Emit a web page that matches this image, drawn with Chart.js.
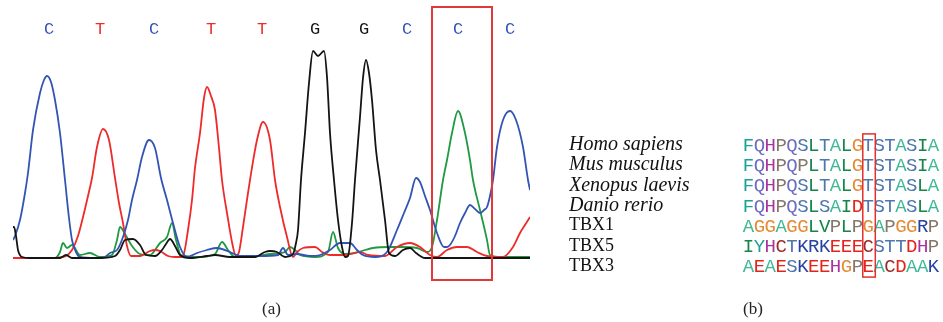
<!DOCTYPE html>
<html>
<head>
<meta charset="utf-8">
<script src="https://cdn.jsdelivr.net/npm/chart.js@4/dist/chart.umd.min.js"></script>
<style>
  html, body { margin: 0; padding: 0; background: #fff; }
  #wrap { position: relative; width: 943px; height: 322px; overflow: hidden; }
  #trace { position: absolute; left: 0; top: 0; }
  #align { position: absolute; left: 540px; top: 0; }
</style>
</head>
<body>
<div id="wrap">
  <canvas id="trace" width="540" height="322"></canvas>
  <canvas id="align" width="403" height="322"></canvas>
</div>
<script>
// --- (a) chromatogram: [scan position, signal] for each dye channel ---
const traceG = [[13,31],[14,31],[16,22],[18,8],[22,1],[30,0],[60,0],[66,3],[72,0],[100,0],[115,2],[120,8],[125,18],[133,19],[140,13],[146,3],[155,2],[162,8],[166,14],[170,19],[175,12],[180,3],[190,0],[207,2],[215,3],[230,1],[255,1],[265,6],[270,7],[277,6],[285,1],[293,4],[296,15],[298,28],[301,78],[305,125],[309,175],[313,207],[318,202],[324,207],[327,181],[330,125],[334,78],[338,38],[342,11],[345,1],[348,2],[352,35],[355,78],[360,141],[363,180],[366,198],[369,185],[372,158],[376,108],[380,78],[385,38],[389,5],[395,2],[403,8],[410,10],[416,5],[425,0],[530,0]];
const traceC = [[13,18],[15,22],[20,38],[25,65],[28,85],[33,128],[40,165],[44,178],[47,182],[51,176],[55,158],[60,125],[65,78],[69,40],[72,18],[76,6],[80,1],[95,0],[105,1],[110,5],[117,8],[123,21],[128,38],[132,58],[137,78],[142,101],[149,118],[155,110],[161,80],[167,58],[173,35],[180,11],[187,1],[197,5],[207,8],[217,10],[230,6],[240,2],[260,2],[278,3],[283,10],[288,3],[297,4],[310,2],[320,3],[330,8],[340,15],[350,15],[357,8],[363,3],[375,1],[387,6],[397,28],[404,45],[410,60],[416,80],[420,76],[425,62],[430,48],[437,25],[444,11],[447,11],[450,13],[455,22],[460,35],[465,45],[470,53],[475,49],[480,45],[484,48],[487,51],[490,62],[493,78],[497,111],[503,138],[510,147],[516,138],[523,111],[528,78],[530,68]];
const traceT = [[13,0],[55,0],[62,1],[66,2],[72,8],[78,22],[84,45],[88,62],[92,80],[97,111],[103,129],[109,118],[115,80],[119,55],[123,35],[127,12],[131,2],[140,2],[150,7],[155,8],[160,7],[168,2],[175,1],[180,1],[183,2],[188,28],[192,58],[195,90],[200,125],[204,160],[207,171],[211,162],[215,148],[219,110],[222,78],[227,45],[233,11],[236,2],[239,6],[243,31],[248,65],[250,78],[257,118],[263,136],[270,118],[275,78],[280,51],[287,21],[293,1],[297,6],[303,10],[315,11],[322,6],[330,3],[345,3],[360,6],[368,3],[385,2],[397,11],[410,15],[420,11],[430,3],[437,1],[447,8],[457,11],[467,11],[477,6],[487,2],[503,1],[513,11],[520,25],[525,33],[530,41]];
const traceA = [[13,0],[55,0],[60,6],[63,15],[67,10],[72,13],[80,3],[90,5],[100,1],[112,3],[117,18],[120,31],[125,24],[132,12],[140,4],[150,3],[160,15],[167,21],[172,35],[176,18],[181,3],[200,1],[215,4],[222,16],[228,8],[235,1],[250,1],[270,4],[285,6],[290,11],[295,8],[300,3],[315,1],[328,6],[333,26],[338,10],[345,4],[355,5],[365,8],[373,10],[390,11],[400,11],[417,10],[427,6],[432,11],[437,38],[443,78],[447,98],[452,125],[458,147],[465,125],[470,98],[473,78],[480,48],[487,18],[490,3],[500,1],[530,1]];

const baseCalls = ['C','T','C','T','T','G','G','C','C','C'];
const basePos = [49, 100, 154, 211, 262, 315, 364, 407, 458, 510];
const markedScan = [432, 492]; // boxed base call

// --- (b) alignment ---
const species = ['Homo sapiens','Mus musculus','Xenopus laevis','Danio rerio','TBX1','TBX5','TBX3'];
const sequences = [
  'FQHPQSLTALGTSTASIA',
  'FQHPQPLTALGTSTASIA',
  'FQHPQSLTALGTSTASLA',
  'FQHPQSLSAIDTSTASLA',
  'AGGAGGLVPLPGAPGGRP',
  'IYHCTKRKEEECSTTDHP',
  'AEAESKEEHGPEACDAAK'
];
const markedColumn = 11;

// --- colours ---
const dyeColor = { G: '#141414', C: '#3454b4', T: '#ee2a2a', A: '#1f9a40' };
const aaColor = {
  A: '#3fb896', F: '#1aa296', Y: '#1aa296', Q: '#6d6dc0', H: '#a8329f',
  P: '#85776a', S: '#4f77ae', T: '#4f77ae', L: '#16854a', I: '#16854a',
  V: '#16854a', G: '#e48a34', D: '#e4241c', E: '#e4241c', K: '#2642a4',
  R: '#2642a4', C: '#9c2a28'
};

const toXY = arr => arr.map(([x, y]) => ({ x, y }));
const traceSet = (data, dye) => ({
  data: toXY(data), showLine: true, borderColor: dyeColor[dye], borderWidth: 1.8,
  pointRadius: 0, pointHitRadius: 0, cubicInterpolationMode: 'monotone', fill: false
});

const callBox = {
  id: 'callBox',
  afterDatasetsDraw(chart) {
    const xs = chart.scales.x, ys = chart.scales.y, ctx = chart.ctx;
    const x0 = xs.getPixelForValue(markedScan[0]);
    const x1 = xs.getPixelForValue(markedScan[1]);
    const y1 = ys.getPixelForValue(ys.min);
    ctx.save();
    ctx.strokeStyle = '#e2383a';
    ctx.lineWidth = 2;
    ctx.strokeRect(x0, 7, x1 - x0, y1 - 7);
    ctx.restore();
  }
};

new Chart(document.getElementById('trace'), {
  type: 'scatter',
  data: {
    datasets: [traceG, traceC, traceT, traceA].map((d, i) => traceSet(d, 'GCTA'[i]))
  },
  options: {
    responsive: false, animation: false, devicePixelRatio: 1,
    layout: { padding: { left: 13, right: 10, top: 19.6, bottom: 1.8 } },
    plugins: { legend: { display: false }, tooltip: { enabled: false } },
    scales: {
      x: {
        type: 'linear', min: 13, max: 530,
        ticks: { display: false }, grid: { display: false, drawTicks: false }, border: { display: false },
        title: { display: true, text: '(a)', color: '#222', font: { family: 'Liberation Serif', size: 17 }, padding: { top: 19.8, bottom: 0 } }
      },
      x2: {
        type: 'linear', position: 'top', min: 13, max: 530, bounds: 'data',
        afterBuildTicks: axis => { axis.ticks = basePos.map(v => ({ value: v })); },
        ticks: {
          autoSkip: false, maxRotation: 0, minRotation: 0, padding: 0,
          callback: (v, i) => baseCalls[i],
          color: c => dyeColor[baseCalls[c.index]],
          font: { family: 'Liberation Mono', size: 17 }
        },
        grid: { display: false, drawTicks: false }, border: { display: false }
      },
      y: { type: 'linear', min: -22, max: 218, display: false }
    }
  },
  plugins: [callBox]
});

const residues = {
  id: 'residues',
  afterDatasetsDraw(chart) {
    const ctx = chart.ctx, xs = chart.scales.x, ys = chart.scales.y;
    ctx.save();
    ctx.font = '19px "Liberation Mono"';
    ctx.textAlign = 'center';
    ctx.textBaseline = 'middle';
    sequences.forEach((seq, r) => {
      const pts = chart.getDatasetMeta(r).data;
      [...seq].forEach((ch, c) => {
        ctx.fillStyle = aaColor[ch] || '#333';
        ctx.fillText(ch, pts[c].x, pts[c].y + 1);
      });
    });
    const step = ys.getPixelForValue(1) - ys.getPixelForValue(0);
    const x0 = xs.getPixelForValue(markedColumn - 0.5);
    const x1 = xs.getPixelForValue(markedColumn + 0.65);
    const y0 = ys.getPixelForValue(0) - step * 0.55;
    const y1 = ys.getPixelForValue(species.length - 1) + step * 0.55;
    ctx.strokeStyle = '#e2302c';
    ctx.lineWidth = 1.5;
    ctx.strokeRect(x0, y0, x1 - x0, y1 - y0);
    ctx.restore();
  }
};

new Chart(document.getElementById('align'), {
  type: 'scatter',
  data: {
    datasets: sequences.map((seq, r) => ({
      data: [...seq].map((ch, c) => ({ x: c, y: species[r] })),
      pointRadius: 0, pointHitRadius: 0
    }))
  },
  options: {
    responsive: false, animation: false, devicePixelRatio: 1,
    layout: { padding: { left: 29, right: 4, top: 145, bottom: 1.8 } },
    plugins: { legend: { display: false }, tooltip: { enabled: false } },
    scales: {
      x: {
        type: 'linear', min: -0.5, max: 17.5,
        ticks: { display: false }, grid: { display: false, drawTicks: false }, border: { display: false },
        title: { display: true, text: '(b)', align: 'start', color: '#222', font: { family: 'Liberation Serif', size: 17 }, padding: { top: 33.8, bottom: 0 } }
      },
      y: {
        type: 'category', labels: species, offset: false,
        ticks: {
          autoSkip: false, padding: 0, crossAlign: 'far', color: '#111',
          font: c => (c.index < 4
            ? { family: 'Liberation Serif', size: 20, style: 'italic' }
            : { family: 'Liberation Serif', size: 18, style: 'normal' })
        },
        grid: { display: false, drawTicks: false }, border: { display: false },
        afterFit: axis => { axis.width = 174; }
      }
    }
  },
  plugins: [residues]
});
</script>
</body>
</html>
